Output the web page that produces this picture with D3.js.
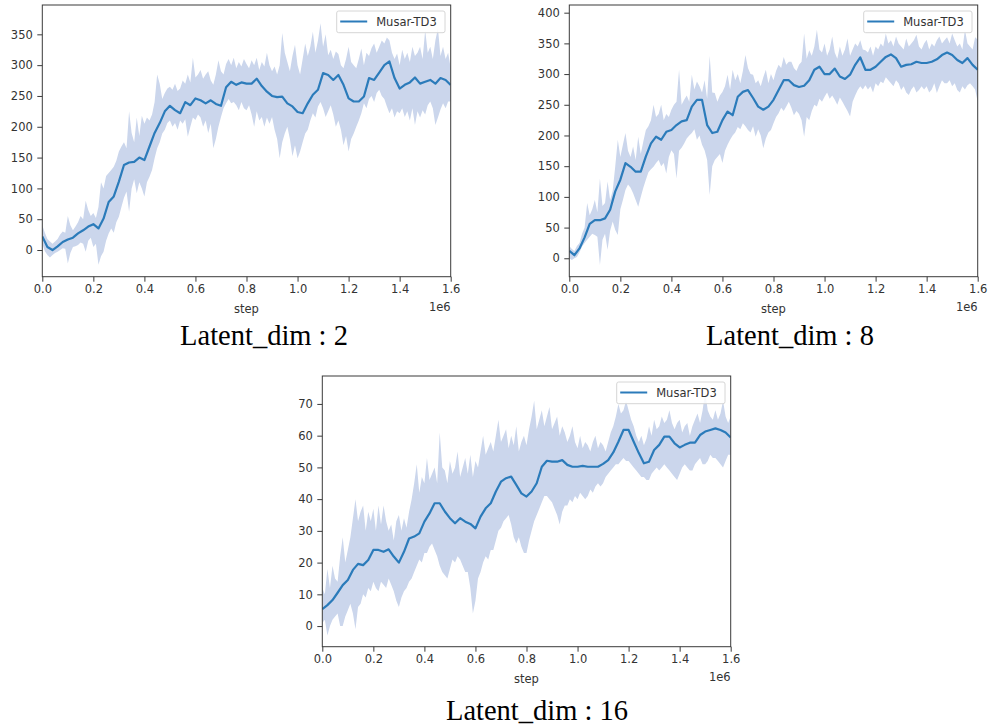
<!DOCTYPE html>
<html><head><meta charset="utf-8">
<script src="https://cdn.jsdelivr.net/npm/d3@7"></script>
<style>body{margin:0;background:#fff;}svg{display:block;}</style>
</head><body>
<svg id="chart" width="989" height="727"></svg>
<script>
// ---------- data ----------
const xTicks = [0, 200000, 400000, 600000, 800000, 1000000, 1200000, 1400000, 1600000];
const xTickLabels = ["0.0","0.2","0.4","0.6","0.8","1.0","1.2","1.4","1.6"];
const seriesName = "Musar-TD3";
const meanStep = 20000;   // spacing of mean samples (steps)
const bandStep = 10000;   // spacing of band samples (steps)

const captions = ["Latent_dim : 2", "Latent_dim : 8", "Latent_dim : 16"];

const dim2YTicks = [0, 50, 100, 150, 200, 250, 300, 350];
const dim2Mean = [22,5,0,6,13,17,20,27,32,38,42,35,51,78,87,111,138,142,143,150,146,168,190,206,225,234,227,222,240,235,246,243,238,243,237,234,264,273,268,272,270,270,278,266,257,250,248,249,238,233,224,222,238,252,260,287,284,276,284,268,246,241,241,249,279,276,288,300,306,279,262,268,272,280,270,273,276,270,279,276,268];
const dim2Upper = [40,28,18,14,10,14,18,25,30,28,55,40,32,38,45,55,50,80,65,55,60,52,70,110,100,120,125,130,135,145,160,168,175,165,225,190,175,215,185,218,205,215,210,220,240,285,270,245,255,262,265,260,270,258,262,275,270,285,272,312,280,285,292,278,285,290,275,268,285,308,290,285,302,310,300,312,295,305,298,310,302,295,308,300,312,292,305,298,320,300,290,298,285,300,352,320,305,290,315,333,300,285,310,335,315,330,354,320,340,368,330,350,316,325,310,322,318,300,295,310,330,305,300,295,310,327,300,320,315,328,335,320,330,340,335,345,340,320,310,319,300,325,310,320,305,330,315,320,330,310,357,320,330,310,340,360,315,330,310,320,295];
const dim2Lower = [10,-2,-8,-12,-8,-5,-3,0,3,2,-22,-5,5,6,8,12,10,-3,15,20,5,10,-24,-10,-3,15,27,35,28,45,54,70,85,95,62,100,115,92,110,100,87,110,119,130,149,165,175,189,195,206,210,200,206,195,210,205,212,184,200,215,211,220,215,200,210,190,205,165,180,200,216,230,238,245,238,240,235,227,240,230,227,235,220,200,225,210,216,200,215,205,216,195,180,149,175,189,200,180,152,170,149,160,175,189,195,210,222,215,233,240,230,216,225,235,220,200,210,195,170,185,160,180,189,200,210,222,238,230,245,250,240,255,260,250,245,233,222,230,215,225,222,230,216,225,210,230,203,225,215,227,220,235,241,230,203,215,228,238,230,241,241];

const dim8YTicks = [0, 50, 100, 150, 200, 250, 300, 350, 400];
const dim8Mean = [12,5,16,34,56,62,62,65,79,109,128,155,149,141,141,166,187,198,193,206,209,217,223,225,247,258,258,217,204,206,225,239,233,263,271,274,261,247,242,247,258,274,290,290,282,279,281,290,307,312,300,300,309,296,292,299,315,327,307,307,312,320,328,332,326,312,315,316,320,318,318,320,324,331,335,331,323,318,326,315,307];
const dim8Upper = [20,15,12,20,25,40,50,90,70,80,95,75,130,85,90,125,95,110,150,193,165,185,204,175,165,182,160,198,170,190,209,215,225,250,230,235,250,225,235,230,242,250,255,307,250,258,265,255,299,275,288,280,270,290,260,330,270,269,255,265,271,280,299,275,307,290,300,285,305,331,310,300,299,285,290,280,295,307,285,300,290,305,315,310,328,315,320,320,310,305,315,320,366,325,339,330,345,372,340,335,350,330,340,361,335,325,345,330,340,358,330,340,350,345,355,340,339,335,345,330,345,340,350,345,366,350,355,345,361,350,345,340,358,345,350,355,364,345,340,350,356,340,350,345,355,361,350,355,360,350,366,355,345,350,340,372,350,345,340,360,356];
const dim8Lower = [0,-3,0,2,10,19,25,30,35,40,38,35,-11,30,40,14,45,60,46,38,80,95,111,120,115,106,95,84,100,115,128,140,145,149,155,160,150,155,138,165,176,170,130,175,180,187,195,200,204,210,193,200,185,176,160,103,150,160,165,170,155,175,185,193,200,205,214,210,220,215,209,205,215,198,210,200,179,195,205,209,220,230,236,245,240,247,255,245,233,240,235,225,198,230,225,240,250,247,260,255,263,270,260,265,258,250,262,255,247,240,231,255,265,274,280,275,282,275,280,270,285,280,288,285,295,290,285,280,290,285,274,280,270,266,275,280,270,274,280,275,280,270,275,285,269,280,290,285,285,290,280,285,274,270,280,275,282,285,280,275,255];

const dim16YTicks = [0, 10, 20, 30, 40, 50, 60, 70];
const dim16Mean = [5.3,6.6,8.2,10.5,12.9,14.5,17.7,19.6,19.2,20.8,24.0,24.0,23.4,24.2,21.9,20.0,23.4,27.6,28.2,29.2,32.9,35.5,38.7,38.7,36.1,34.0,32.4,34.0,32.9,32.2,30.8,34.5,37.1,38.7,42.4,45.5,46.6,47.1,44.5,41.8,40.8,42.4,45.0,50.2,52.1,51.8,51.8,52.3,50.8,50.2,50.2,50.5,50.2,50.2,50.2,51.1,52.3,54.7,58.1,61.8,61.8,58.1,54.5,51.3,51.8,55.5,57.1,59.7,59.7,57.6,56.3,57.1,57.8,57.8,60.2,61.3,61.8,62.3,61.8,61.0,59.4];
const dim16Upper = [12,10,18,12,19,15,14,22,28,20,24,28,34,40,33,36,38,30,36,33,37,30,38,32,38,33,30,32,27,33,35,30,34,31,36,40,45,51,42,47,45,53,46,48,50,45,61,50,49,45,52,48,50,55,47,50,53,48,54,47,52,50,55,60,54,56,58,55,60,65,58,60,62,56,60,57,63,55,58,60,57,62,66,71,62,65,68,63,66,69,62,64,66,60,63,61,58,60,63,58,56,60,56,58,57,55,58,60,56,58,57,55,58,61,63,66,70,67,68,71,68,65,63,60,58,60,57,59,63,60,65,62,63,66,64,65,68,64,62,64,65,61,63,64,60,63,65,67,64,68,74,68,66,65,68,65,67,71,66,64,66];
const dim16Lower = [1,2,-3,0,2,3,4,0,0,3,5,7,4,-1,6,7,10,9,12,11,14,12,11,14,13,12,15,13,11,8,6,9,11,12,14,15,17,19,21,20,23,23,25,26,24,22,19,17,16,15,18,21,20,22,21,19,17,17,12,4,8,15,17,20,22,21,24,24,27,30,31,33,34,35,32,28,26,28,25,23,23,27,30,33,35,37,39,41,41,40,39,37,35,32,36,38,38,40,39,41,40,42,41,40,41,43,42,44,45,44,45,47,48,49,50,51,51,52,53,52,52,51,50,49,48,47,47,46,46,48,49,50,49,50,51,50,49,48,47,46,48,50,51,50,49,49,51,52,53,51,51,52,54,53,53,52,51,50,52,54,54];

// ---------- layout ----------
const panels = [
  {mean: dim2Mean, upper: dim2Upper, lower: dim2Lower, yTicks: dim2YTicks, yDomain: [-43.3, 397.6],
   box: {l: 42.3, r: 450.7, t: 5, b: 276.7}, caption: captions[0], capX: 264, capY: 345},
  {mean: dim8Mean, upper: dim8Upper, lower: dim8Lower, yTicks: dim8YTicks, yDomain: [-30, 412.5],
   box: {l: 569.3, r: 977.7, t: 5, b: 276.7}, caption: captions[1], capX: 790, capY: 345},
  {mean: dim16Mean, upper: dim16Upper, lower: dim16Lower, yTicks: dim16YTicks, yDomain: [-6.5, 78.8],
   box: {l: 322.3, r: 730.7, t: 376, b: 646.7}, caption: captions[2], capX: 537, capY: 720}
];

const lineColor = "#2b7bba";
const bandColor = "#cbd6ec";
const axisColor = "#3a3a3a";
const textColor = "#333";
const tickFont = "DejaVu Sans, sans-serif";

const svg = d3.select("#chart");

panels.forEach((p, pi) => {
  const {l, r, t, b} = p.box;
  const x = d3.scaleLinear().domain([0, 1600000]).range([l, r]);
  const y = d3.scaleLinear().domain(p.yDomain).range([b, t]);
  const g = svg.append("g");

  const clipId = "clip" + pi;
  svg.append("clipPath").attr("id", clipId)
    .append("rect").attr("x", l).attr("y", t).attr("width", r - l).attr("height", b - t);

  const plot = g.append("g").attr("clip-path", `url(#${clipId})`);

  const area = d3.area()
    .x((d, i) => x(i * bandStep))
    .y0((d, i) => y(p.lower[i]))
    .y1((d, i) => y(p.upper[i]));
  plot.append("path").datum(p.upper).attr("d", area).attr("fill", bandColor).attr("stroke", "none");

  const line = d3.line()
    .x((d, i) => x(i * meanStep))
    .y(d => y(d));
  plot.append("path").datum(p.mean).attr("d", line)
    .attr("fill", "none").attr("stroke", lineColor).attr("stroke-width", 2.2)
    .attr("stroke-linejoin", "round");

  // axes
  const xAxis = d3.axisBottom(x).tickValues(xTicks).tickFormat((d, i) => xTickLabels[i])
    .tickSize(5).tickPadding(3.5);
  const gx = g.append("g").attr("transform", `translate(0,${b})`).call(xAxis);
  const yAxis = d3.axisLeft(y).tickValues(p.yTicks).tickFormat(d3.format("d"))
    .tickSize(5).tickPadding(4.5);
  const gy = g.append("g").attr("transform", `translate(${l},0)`).call(yAxis);
  [gx, gy].forEach(ax => {
    ax.select(".domain").remove();
    ax.selectAll(".tick line").attr("stroke", axisColor).attr("stroke-width", 1);
    ax.selectAll(".tick text").attr("fill", textColor)
      .style("font-family", tickFont).style("font-size", "11.5px");
  });

  // frame
  g.append("rect").attr("x", l).attr("y", t).attr("width", r - l).attr("height", b - t)
    .attr("fill", "none").attr("stroke", axisColor).attr("stroke-width", 1);

  // axis label and offset
  g.append("text").attr("x", (l + r) / 2).attr("y", b + 36).attr("text-anchor", "middle")
    .style("font-family", tickFont).style("font-size", "11.5px").attr("fill", textColor).text("step");
  g.append("text").attr("x", r).attr("y", b + 34).attr("text-anchor", "end")
    .style("font-family", tickFont).style("font-size", "11.5px").attr("fill", textColor).text("1e6");

  // legend
  const lg = g.append("g").attr("transform", `translate(${r - 114},${t + 6})`);
  lg.append("rect").attr("x", 0).attr("y", 0).attr("width", 108.3).attr("height", 21.7)
    .attr("rx", 2).attr("fill", "#fff").attr("fill-opacity", 0.85)
    .attr("stroke", "#d6d6d6").attr("stroke-width", 1);
  lg.append("line").attr("x1", 3.5).attr("x2", 30.5).attr("y1", 10.5).attr("y2", 10.5)
    .attr("stroke", lineColor).attr("stroke-width", 2);
  lg.append("text").attr("x", 39.5).attr("y", 15)
    .style("font-family", tickFont).style("font-size", "11.5px").attr("fill", textColor).text(seriesName);

  // caption
  svg.append("text").attr("x", p.capX).attr("y", p.capY).attr("text-anchor", "middle")
    .style("font-family", "Liberation Serif, Times New Roman, serif").style("font-size", "28.5px")
    .attr("fill", "#000").text(p.caption);
});
</script>
</body></html>
